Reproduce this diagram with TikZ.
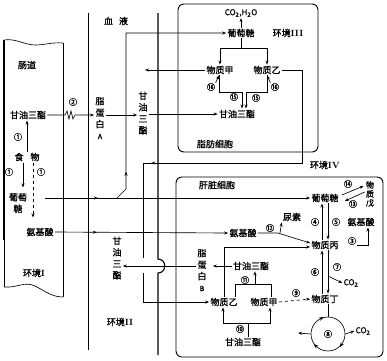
\documentclass[tikz,border=0pt]{standalone}
\usepackage{fontspec}
\newfontfamily\cjk{Noto Sans CJK SC}[FakeBold=1.2]
\usetikzlibrary{arrows.meta,decorations.markings}
\newcommand{\myrn}[1]{{\rmfamily\bfseries #1}}
\begin{document}
\begin{tikzpicture}[x=1pt,y=-1pt,line width=0.65pt,
  lab/.style={font=\cjk\fontsize{9}{10}\selectfont,inner sep=1pt},
  num/.style={font=\cjk\fontsize{8.5}{9}\selectfont,inner sep=0pt},
  vtxt/.style={align=center,inner sep=1pt,font=\cjk\fontsize{9}{11.5}\selectfont},
  arr/.style={-{Stealth[length=4pt,width=3pt]}},
  marrow/.style={postaction={decorate},decoration={markings,mark=at position #1 with {\arrow{Stealth[length=4pt,width=3pt]}}}},
  cellbox/.style={draw,rounded corners=6pt,line width=0.9pt}]
\useasboundingbox (0,0) rectangle (387,360);

% ---------------- intestine (environment I)
\draw (4,40) .. controls (15,38) and (25,45) .. (35,45) .. controls (45,45) and (52,42) .. (63,43);
\draw (63,43) -- (63,297);
\draw (4,287) .. controls (18,288) and (24,281) .. (35,286) .. controls (45,291) and (52,297) .. (63,297);
\draw[line width=1.2pt] (4,40) -- (4,240);
\draw (4,240) -- (4,287);

\node[lab] (gut) at (27,65) {肠道};
\node[lab] (tI) at (28,115) {甘油三酯};
\node[lab] (food) at (27,157) {食\hspace{7pt}物};
\node[num] (n1a) at (18,137) {①};
\node[num] (n1b) at (9,172) {①};
\node[num] (n1c) at (41,172) {①};
\node[vtxt] (gI) at (18,203) {葡萄\\糖};
\node[lab] (aI) at (40,232) {氨基酸};
\node[lab] (envI) at (34,273) {环境\myrn{I}};

\draw[arr] (food.north) -- (food.north |- tI.south);
\draw[arr] ([xshift=-4pt]food.south) -- ++(0,25);
\draw[arr,dashed] ([xshift=6pt]food.south) -- ++(0,55);

% ---------------- blood (environment II)
\node[lab] (blood) at (116,21) {血\hspace{6pt}液};
\node[lab] (envII) at (120,322) {环境\myrn{II}};
\draw (88,13) -- (88,350);
\draw[line width=1.1pt] (158,13) -- (158,259) .. controls (167,259) and (167,273) .. (158,273) -- (158,355);

\node[num] (n2) at (73,102) {②};
\node[vtxt] (lpA) at (100,118) {脂\\蛋\\白\\\scriptsize A};
\node[vtxt] (tB1) at (143,113) {甘\\油\\三\\酯};
\node[vtxt] (tB2) at (117,258) {甘\\油\\三\\酯};

\draw[arr] (tI.east) -- (65,115) -- (67,111) -- (69,119) -- (71,111) -- (73,119) -- (75,115) -- (lpA.west |- tI);
\draw[arr] (lpA.east |- tI) -- (tB1.west |- tI);

% ---------------- fat cell (environment III)
\draw[cellbox] (178,4) rectangle (318,152);
\node[lab,font=\cjk\fontsize{8}{9}\selectfont] (co2h2o) at (241,13) {CO\textsubscript{2},H\textsubscript{2}O};
\node[lab] (gF) at (241,33) {葡萄糖};
\node[lab] (envIII) at (288,33) {环境\myrn{III}};
\node[lab] (jiaF) at (220,70) {物质甲};
\node[lab] (yiF) at (267,70) {物质乙};
\node[num] (n16a) at (211,87) {⑯};
\node[num] (n16b) at (275,87) {⑯};
\node[num] (n15a) at (234,97) {⑮};
\node[num] (n15b) at (256,98) {⑮};
\node[lab] (tF) at (237,114) {甘油三酯};
\node[lab] (fatlabel) at (215,144) {脂肪细胞};

\draw[arr] (gF.north) -- (co2h2o.south);
\coordinate (gb) at (241,48);
\draw (gF.south) -- (gb);
\draw[arr] (gb) -| (jiaF.north);
\draw[arr] (gb) -| (yiF.north);
\draw[arr] ([xshift=-1pt]jiaF.south) |- (242,92) -- ([xshift=5pt]tF.north);
\draw[arr] (yiF.south) |- (246,92) -- ([xshift=9pt]tF.north);
\draw[arr] (n16a.north east) -- ([xshift=-1pt]jiaF.south);
\draw[arr] (n16b.north west) -- (yiF.south);
\draw[arr] (tB1.east |- tF) -- (tF.west);
\coordinate (jiaEnd) at (145,70);
\draw[arr] (jiaF.west) -- (jiaEnd);

% glucose from intestine
\coordinate (g0) at (45,198);
\coordinate (gbr) at (117,198);
\node[lab] (gL) at (325,198) {葡萄糖};
\draw[arr,marrow=53pt] (g0) -- (gL.west);
\draw[arr,marrow=30pt] (gbr) -- (126,189) |- (gF.west);

% ---------------- liver cell (environment IV)
\draw[cellbox] (176,177) rectangle (383,357);
\node[lab] (envIV) at (325,165) {环境\myrn{IV}};
\node[lab] (liverlabel) at (217,185) {肝脏细胞};
\node[num] (n14) at (348,184) {⑭};
\node[num] (n13) at (353,204) {⑬};
\node[vtxt,font=\cjk\fontsize{8}{9}\selectfont] (wu) at (370,194) {物\\质\\戊};
\node[num] (n4) at (315,222) {④};
\node[num] (n5) at (336,222) {⑤};
\node[lab] (aL2) at (361,222) {氨基酸};
\node[lab] (aL) at (243,233) {氨基酸};
\node[num] (n12) at (270,228) {⑫};
\node[lab] (urea) at (292,217) {尿素};
\node[lab] (bing) at (325,245) {物质丙};
\node[num] (n3) at (352,241) {③};
\node[vtxt] (lpB) at (202,270) {脂\\蛋\\白\\\scriptsize B};
\node[lab] (tL) at (251,266) {甘油三酯};
\node[num] (n11) at (245,280) {⑪};
\node[num] (n6) at (315,272) {⑥};
\node[num] (n7) at (337,267) {⑦};
\node[lab,font=\cjk\fontsize{8}{9}\selectfont] (co2a) at (351,283) {CO\textsubscript{2}};
\node[lab] (yiL) at (224,302) {物质乙};
\node[lab] (jiaL) at (264,302) {物质甲};
\node[num] (n9) at (296,293) {⑨};
\node[lab] (ding) at (325,299) {物质丁};
\node[num] (n10) at (240,329) {⑩};
\node[lab] (tL2) at (243,342) {甘油三酯};
\node[circle,draw,minimum size=34pt,inner sep=0pt] (cyc) at (328,334) {};
\node[num] (n8) at (cyc.center) {⑧};
\node[lab,font=\cjk\fontsize{8}{9}\selectfont] (co2b) at (363,331) {CO\textsubscript{2}};

% amino acid line from intestine
\draw[arr,marrow=42pt] (aI.east) -- (aL.west);

% glucose <-> glycogen
\draw[arr] ([shift={(2pt,3pt)}]gL.east) -- ([shift={(-1pt,8pt)}]wu.west);
\draw[arr] ([shift={(0pt,2pt)}]wu.west) -- ([shift={(5pt,-3pt)}]gL.east);

% glucose <-> bing
\draw[arr] ([xshift=-3pt]bing.north) -- ([xshift=-3pt]gL.south);
\draw[arr] ([xshift=3pt]gL.south) -- ([xshift=3pt]bing.north);
% bing -> amino acid
\draw[arr] (n3.south east) -| ([xshift=7pt]aL2.south);
% amino acid -> bing, urea
\draw[arr] (aL.east) -- ++(20,0) -- ([yshift=2pt]bing.west);
\coordinate (ub) at (280,233);
\draw[arr] (ub) -- (urea.south west);
% yiL -> bing
\draw[arr] (yiL.north) |- ([yshift=-2pt]bing.west);
% bing <-> ding
\draw[arr] ([xshift=-3pt]ding.north) -- ([xshift=-3pt]bing.south);
\draw[arr] ([xshift=3pt]bing.south) -- ([xshift=3pt]ding.north);
\coordinate (b7) at (328,276);
\draw[arr] (b7) -- (co2a.west);
% triglyceride -> lipoprotein B -> blood
\draw[arr] (tL.west) -- ([xshift=5pt]lpB.east |- tL);
\draw[arr] (lpB.west |- tL) -- (tB2.east |- tL);
% 11
\coordinate (b11) at (255,284);
\draw ([xshift=11pt]yiL.north) |- (b11) -| ([xshift=7pt]jiaL.north);
\draw[arr] (b11) -- (b11 |- tL.south);
% 9
\draw[arr,dashed] (jiaL.east) -- (ding.west);
% 10
\coordinate (b10) at (248,323);
\draw (tL2.north -| b10) -- (b10);
\draw[arr] (b10) -| ([xshift=-1pt]yiL.south);
\draw[arr] (b10) -| ([xshift=6pt]jiaL.south);
% cycle 8
\draw (ding.south -| cyc.north) -- (cyc.north);
\path[postaction={decorate},decoration={markings,
  mark=at position 0.333 with {\arrow{Stealth[length=4.5pt,width=3.5pt,reversed]}},
  mark=at position 0.64 with {\arrow{Stealth[length=4.5pt,width=3.5pt,reversed]}},
  mark=at position 0.91 with {\arrow{Stealth[length=4.5pt,width=3.5pt,reversed]}}}]
  (cyc.center) circle[radius=17pt];
\draw[arr] (cyc.east) -- (co2b.west);
\coordinate (cl) at (298,333);
\draw[arr] (cyc.west) -- (cl);

% loop: fat yi -> blood -> liver yi
\draw[arr] (143,273) |- (yiL.west);
\draw[marrow=264pt] (yiF.east) -| (302,163) -- (143,163) -- (143,258);
\end{tikzpicture}
\end{document}
